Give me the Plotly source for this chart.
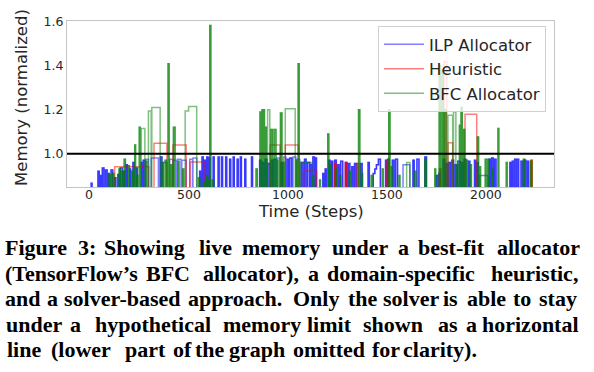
import plotly.graph_objects as go

# ---------------- data ----------------
# Each series is a list of step pulses: start step, end step, peak memory (normalized).
# Between pulses the memory sits below the visible window (lower part omitted).
FLOOR = 0.70

ilp_start = [10, 44, 55, 66, 82, 94, 110, 128, 144, 156, 172, 186, 203, 220, 236, 262, 272, 284,
             312, 358, 372, 405, 424, 444, 466, 506, 522, 556, 568, 580, 592, 602,
             624, 649, 666, 687, 707, 725, 745, 761, 783, 817,
             858, 872, 886, 900, 916, 930, 946, 966, 978, 996, 1010, 1026, 1046,
             1068, 1084, 1100, 1114, 1126, 1138, 1176, 1188, 1206, 1220, 1236, 1252, 1266,
             1290, 1304, 1322, 1336, 1366, 1404, 1430, 1438, 1446, 1456, 1492, 1502, 1526, 1542,
             1580, 1630, 1650, 1690, 1748, 1760, 1782, 1796, 1810, 1826, 1842, 1856, 1874, 1888,
             1910, 1940, 1952, 1966, 2014, 2026, 2040, 2118, 2130, 2142, 2154, 2174, 2190, 2206]
ilp_end = [14, 50, 60, 74, 90, 100, 118, 134, 150, 166, 178, 192, 208, 226, 242, 268, 280, 298,
           348, 366, 392, 420, 440, 462, 488, 520, 542, 562, 574, 586, 598, 608,
           629, 654, 671, 692, 712, 730, 750, 766, 788, 822,
           866, 880, 894, 910, 924, 940, 958, 972, 990, 1004, 1020, 1040, 1060,
           1076, 1092, 1110, 1122, 1134, 1144, 1182, 1194, 1212, 1226, 1244, 1258, 1276,
           1296, 1312, 1328, 1344, 1374, 1410, 1438, 1446, 1456, 1466, 1498, 1510, 1534, 1552,
           1614, 1636, 1660, 1698, 1756, 1766, 1790, 1804, 1818, 1834, 1850, 1866, 1882, 1896,
           1916, 1946, 1958, 2008, 2020, 2034, 2048, 2124, 2138, 2150, 2162, 2182, 2198, 2212]
ilp_peak = [0.865, 0.92, 0.90, 0.935, 0.925, 0.91, 0.925, 0.89, 0.905, 0.935, 0.92, 0.95, 0.93, 0.96, 0.935, 0.96, 0.97, 0.975,
            0.98, 0.985, 0.96, 0.975, 0.97, 0.975, 0.97, 0.975, 0.98, 0.92, 0.985, 0.97, 0.985, 0.98,
            0.985, 0.985, 0.985, 0.985, 0.975, 0.985, 0.975, 0.985, 0.975, 0.985,
            0.97, 0.96, 0.975, 0.955, 0.97, 0.975, 0.98, 0.96, 0.985, 0.975, 0.98, 0.985, 0.975,
            0.96, 0.975, 0.96, 0.95, 0.985, 0.98, 0.91, 0.93, 0.97, 0.965, 0.97, 0.95, 0.965,
            0.96, 0.955, 0.94, 0.955, 0.955, 0.96, 0.91, 0.93, 0.95, 0.975, 0.97, 0.975, 0.97, 0.975,
            0.95, 0.97, 0.975, 0.985, 0.90, 0.91, 0.975, 0.955, 0.96, 0.97, 0.95, 0.965, 0.96, 0.975,
            0.965, 0.97, 0.96, 0.90, 0.975, 0.98, 0.975, 0.96, 0.965, 0.975, 0.975, 0.965, 0.97, 0.965]

heur_start = [128, 326, 421, 508, 911, 987, 1079, 1236, 1290, 1350, 1500, 1764, 1786, 1806, 1892, 2224]
heur_end = [300, 391, 488, 583, 961, 1054, 1145, 1242, 1296, 1356, 1506, 1770, 1800, 1830, 1951, 2230]
heur_peak = [0.94, 1.048, 1.04, 0.962, 1.04, 1.04, 0.92, 0.955, 0.96, 0.955, 0.965, 0.93, 1.42, 1.05, 1.18, 0.97]

bfc_start = [100, 118, 150, 164, 176, 196, 214, 229, 240, 252, 262, 284, 298, 315, 365, 382, 397, 410,
             424, 448, 470, 483, 500, 550, 575, 590, 600, 607, 620,
             840, 860, 870, 876, 888, 898, 914, 931, 946, 963, 976, 987, 1042, 1052, 1064, 1126,
             1160, 1201, 1214, 1240, 1262, 1310, 1356, 1372, 1420, 1476, 1508, 1520, 1560, 1598,
             1640, 1690, 1740, 1762, 1776, 1790, 1806, 1834, 1852, 1864, 1872, 1884, 1900, 1920,
             1955, 1966, 1994, 2008, 2030, 2058, 2100, 2186, 2222]
bfc_end = [106, 124, 156, 170, 182, 202, 218, 233, 244, 256, 280, 290, 312, 357, 372, 388, 402, 416,
           432, 452, 476, 500, 541, 556, 580, 596, 604, 612, 626,
           846, 866, 874, 882, 892, 909, 922, 940, 950, 970, 982, 1037, 1046, 1057, 1120, 1130,
           1164, 1206, 1218, 1244, 1266, 1314, 1362, 1376, 1424, 1480, 1514, 1524, 1564, 1615,
           1644, 1696, 1744, 1768, 1782, 1796, 1830, 1846, 1856, 1868, 1878, 1890, 1904, 1924,
           1960, 1970, 2002, 2014, 2034, 2062, 2104, 2192, 2228]
bfc_peak = [0.905, 0.91, 0.93, 0.92, 0.975, 0.945, 0.92, 1.04, 0.90, 1.12, 1.115, 0.965, 1.195, 1.21, 0.96, 0.97, 1.41, 0.95,
            1.12, 0.965, 0.93, 1.195, 1.215, 0.89, 0.87, 0.90, 0.88, 1.585, 0.88,
            0.93, 1.19, 1.2, 1.2, 1.12, 1.2, 1.11, 1.11, 0.97, 1.185, 0.96, 1.205, 0.97, 1.41, 0.96, 0.90,
            0.88, 1.09, 0.95, 0.93, 0.90, 0.92, 1.2, 0.91, 0.90, 0.93, 1.2, 0.94, 0.90, 0.96,
            0.92, 0.975, 0.93, 1.4, 1.38, 1.2, 1.175, 1.19, 0.95, 1.13, 1.21, 1.11, 0.97, 0.95,
            1.076, 0.94, 0.975, 0.975, 0.93, 1.115, 0.96, 0.975, 0.965]

memory_limit = 1.0
x_ticks = [0, 500, 1000, 1500, 2000]
y_ticks = [1.0, 1.2, 1.4, 1.6]
series_names = ["ILP Allocator", "Heuristic", "BFC Allocator"]

caption_lines = [
    ["Figure", "3:", "Showing", "live", "memory", "under", "a", "best-fit", "allocator"],
    ["(TensorFlow’s", "BFC", "allocator),", "a", "domain-specific", "heuristic,"],
    ["and", "a", "solver-based", "approach.", "Only", "the", "solver", "is", "able", "to", "stay"],
    ["under", "a", "hypothetical", "memory", "limit", "shown", "as", "a", "horizontal"],
    ["line", "(lower", "part", "of", "the", "graph", "omitted", "for", "clarity)."],
]

# ---------------- layout geometry (pixels) ----------------
W, H = 594, 372
PL, PR, PT, PB = 67, 554, 21, 187

caption_word_x = [
    [36, 87, 144.5, 215, 280.5, 360, 403, 451.5, 538.5],
    [71.5, 168, 251, 313, 400.5, 534],
    [22.5, 52, 122.5, 235, 315.5, 362.5, 410.5, 450, 486.5, 521.5, 557.5],
    [34, 75, 152.5, 262, 329, 393, 448, 471, 530.5],
    [23.5, 81, 145, 182, 209.5, 256.5, 328.5, 386, 440],
]
caption_line_y = [247.5, 273, 298.5, 324, 349.5]


def px_x(px):
    return (px - PL) / (PR - PL)


def px_y(py):
    return (PB - py) / (PB - PT)


def step_path(pulses):
    xs, ys = [0], [FLOOR]
    for i, (s, e, p) in enumerate(pulses):
        xs.append(s)
        ys.append(p)
        nxt = pulses[i + 1][0] if i + 1 < len(pulses) else None
        if nxt != e:
            xs.append(e)
            ys.append(FLOOR)
    return xs, ys


fig = go.Figure()
rgb = ["0,0,255", "255,0,0", "0,128,0"]
series = [(ilp_start, ilp_end, ilp_peak), (heur_start, heur_end, heur_peak), (bfc_start, bfc_end, bfc_peak)]
for name, c, (st, en, pk) in zip(series_names, rgb, series):
    pulses = list(zip(st, en, pk))
    xs, ys = step_path(pulses)
    fig.add_trace(go.Scatter(x=xs, y=ys, mode="lines", name=name, legendgroup=name,
                             line=dict(color=f"rgba({c},0.5)", width=1.5, shape="hv")))
    # narrow spikes overlap themselves in the original and read darker
    narrow = [p for p in pulses if p[1] - p[0] <= 10]
    nx, ny = step_path(narrow)
    fig.add_trace(go.Scatter(x=nx, y=ny, mode="lines", name=name, legendgroup=name, showlegend=False,
                             hoverinfo="skip",
                             line=dict(color=f"rgba({c},0.55)", width=1.5, shape="hv")))

fig.add_shape(type="line", xref="paper", x0=0, x1=1, yref="y", y0=memory_limit, y1=memory_limit,
              line=dict(color="black", width=2))

axis_font = dict(family="DejaVu Sans", size=12.5, color="#262626")
fig.update_xaxes(range=[-112, 2340], tickvals=x_ticks, showticklabels=False,
                 showgrid=False, zeroline=False, showline=True, mirror=True,
                 linecolor="#c4c4c4", linewidth=1.2, ticks="")
fig.update_yaxes(range=[0.848, 1.605], tickvals=y_ticks, ticktext=[f"{t:.1f}" for t in y_ticks],
                 showgrid=False, zeroline=False, showline=True, mirror=True,
                 linecolor="#c4c4c4", linewidth=1.2, ticks="", tickfont=axis_font)

annotations = []
# x tick labels placed on the data scale, close under the axis as in the original
for t in x_ticks:
    annotations.append(dict(text=str(t), xref="x", yref="paper", x=t, y=px_y(194),
                            xanchor="center", yanchor="middle", showarrow=False,
                            borderpad=0, font=axis_font))
annotations += [
    dict(text="Time (Steps)", xref="paper", yref="paper", x=px_x(311), y=px_y(211),
         xanchor="center", yanchor="middle", showarrow=False, borderpad=0,
         font=dict(family="DejaVu Sans", size=16.5, color="#262626")),
    dict(text="Memory (normalized)", xref="paper", yref="paper", x=px_x(21), y=px_y(98),
         xanchor="center", yanchor="middle", showarrow=False, textangle=-90,
         font=dict(family="DejaVu Sans", size=16.5, color="#262626")),
]
for words, xs, ly in zip(caption_lines, caption_word_x, caption_line_y):
    for w, wx in zip(words, xs):
        annotations.append(dict(text=w, xref="paper", yref="paper", x=px_x(wx), y=px_y(ly),
                                xanchor="center", yanchor="middle", showarrow=False,
                                font=dict(family="Liberation Serif", size=22, color="black",
                                          weight="bold")))

fig.update_layout(
    width=W, height=H,
    margin=dict(l=PL, r=W - PR, t=PT, b=H - PB, autoexpand=False),
    paper_bgcolor="white", plot_bgcolor="white",
    showlegend=True,
    legend=dict(x=px_x(546), y=px_y(26), xanchor="right", yanchor="top",
                bgcolor="rgba(255,255,255,0.8)", bordercolor="#d0d0d0", borderwidth=1,
                font=dict(family="DejaVu Sans", size=16.5, color="#262626"),
                tracegroupgap=0, itemwidth=40, entrywidth=126, entrywidthmode="pixels"),
    annotations=annotations,
)

fig.write_html("out.html", config={"displayModeBar": False},
               post_script="document.body.style.margin='0';")
